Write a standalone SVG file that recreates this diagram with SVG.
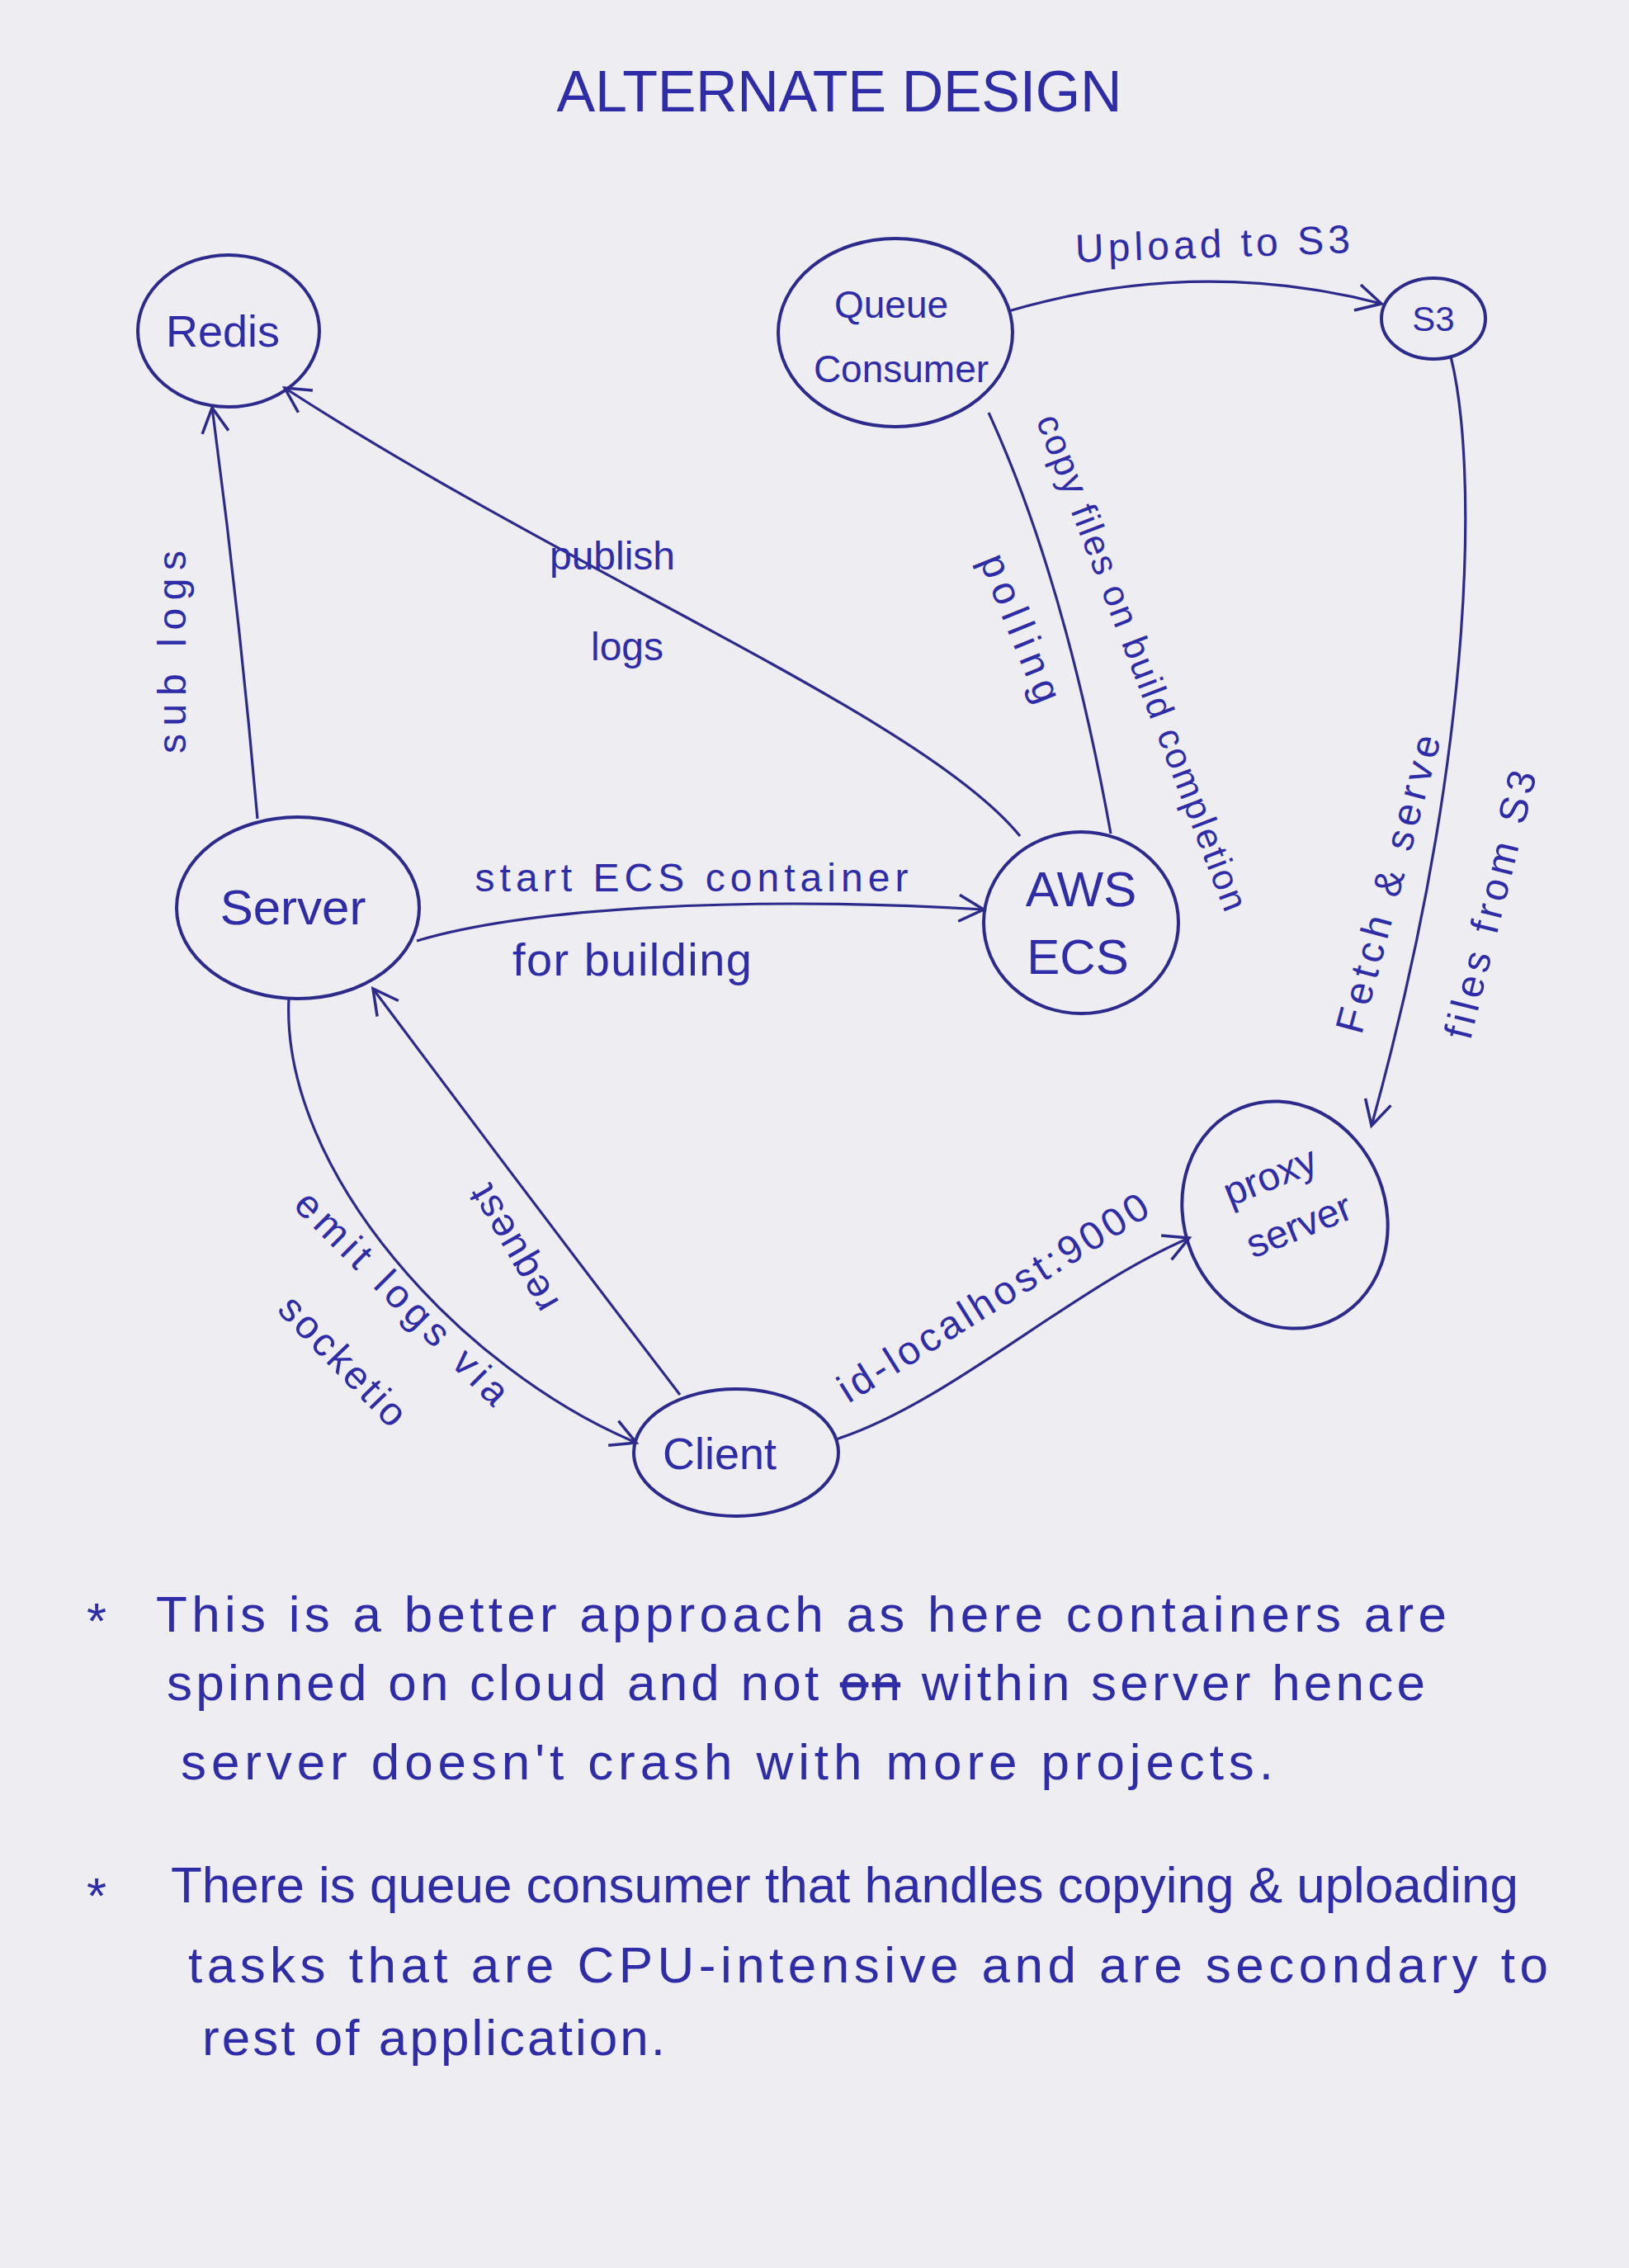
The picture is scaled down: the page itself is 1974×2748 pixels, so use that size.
<svg xmlns="http://www.w3.org/2000/svg" width="1974" height="2748" viewBox="0 0 1974 2748">
<style>
.bg{fill:#eeedf1}
.node{fill:none;stroke:#2c2a8a;stroke-width:4}
.edge{fill:none;stroke:#2c2a8a;stroke-width:3.2}
.t{font-family:"Liberation Sans","DejaVu Sans",sans-serif;fill:#2e2ca6}
.nl{font-size:54px;text-anchor:middle}
.el{font-size:48px;text-anchor:middle}
.note{font-size:62px}
</style>
<defs>
<marker id="arr" markerWidth="40" markerHeight="40" refX="36" refY="20" orient="auto" markerUnits="userSpaceOnUse">
<path d="M6,4 L36,20 L6,36" fill="none" stroke="#2c2a8a" stroke-width="3.5"/>
</marker>
</defs>
<rect class="bg" x="0" y="0" width="1974" height="2748"/>

<text class="t" x="1017" y="135" font-size="70" text-anchor="middle" textLength="685" lengthAdjust="spacing">ALTERNATE DESIGN</text>

<g id="connectors">
<path class="edge" d="M312,992 Q290,740 257,494" marker-end="url(#arr)"/>
<path class="edge" d="M1236,1013 C1120,870 700,700 345,470" marker-end="url(#arr)"/>
<path class="edge" d="M1222,377 Q1450,310 1674,368" marker-end="url(#arr)"/>
<path class="edge" d="M1198,500 Q1290,700 1346,1010"/>
<path class="edge" d="M505,1140 C640,1100 900,1085 1192,1102" marker-end="url(#arr)"/>
<path class="edge" d="M824,1690 Q640,1450 452,1198" marker-end="url(#arr)"/>
<path class="edge" d="M350,1210 C340,1420 560,1660 771,1748" marker-end="url(#arr)"/>
<path class="edge" d="M1013,1744 C1150,1700 1300,1560 1441,1500" marker-end="url(#arr)"/>
<path class="edge" d="M1758,432 C1790,560 1790,900 1662,1364" marker-end="url(#arr)"/>

<text class="t el" transform="translate(225,790) rotate(-90)" textLength="246" lengthAdjust="spacing">sub logs</text>
<text class="t el" x="742" y="690">publish</text>
<text class="t el" x="760" y="800">logs</text>
<text class="t el" transform="translate(1470,312) rotate(-2)" textLength="333" lengthAdjust="spacing">Upload to S3</text>
<text class="t" transform="translate(1370,808) rotate(69)" font-size="44" text-anchor="middle" textLength="640" lengthAdjust="spacing">copy files on build completion</text>
<text class="t el" transform="translate(1222,767) rotate(68)" textLength="190" lengthAdjust="spacing">polling</text>
<text class="t el" x="838" y="1080" textLength="525" lengthAdjust="spacing">start ECS container</text>
<text class="t" x="766" y="1182" font-size="56" text-anchor="middle" textLength="290" lengthAdjust="spacing">for building</text>
<text class="t el" transform="translate(636,1505) rotate(-120)" textLength="170" lengthAdjust="spacing">request</text>
<text class="t el" transform="translate(476,1584) rotate(45)" textLength="345" lengthAdjust="spacing">emit logs via</text>
<text class="t el" transform="translate(404,1660) rotate(46)" textLength="200" lengthAdjust="spacing">socketio</text>
<text class="t el" transform="translate(1212,1586) rotate(-32)" textLength="434" lengthAdjust="spacing">id-localhost:9000</text>
<text class="t el" transform="translate(1698,1075) rotate(-75)" textLength="372" lengthAdjust="spacing">Fetch &amp; serve</text>
<text class="t el" transform="translate(1822,1100) rotate(-76)" textLength="333" lengthAdjust="spacing">files from S3</text>
</g>

<g id="redis">
<ellipse class="node" cx="277" cy="401" rx="110" ry="92"/>
<text class="t nl" x="270" y="420">Redis</text>
</g>
<g id="queue-consumer">
<ellipse class="node" cx="1085" cy="403" rx="142" ry="114"/>
<text class="t" x="1080" y="385" font-size="46" text-anchor="middle">Queue</text>
<text class="t" x="1092" y="463" font-size="46" text-anchor="middle">Consumer</text>
</g>
<g id="s3">
<ellipse class="node" cx="1737" cy="386" rx="63" ry="49"/>
<text class="t" x="1737" y="401" font-size="42" text-anchor="middle">S3</text>
</g>
<g id="server">
<ellipse class="node" cx="361" cy="1100" rx="147" ry="110"/>
<text class="t" x="355" y="1120" font-size="60" text-anchor="middle">Server</text>
</g>
<g id="aws-ecs">
<ellipse class="node" cx="1310" cy="1118" rx="118" ry="110"/>
<text class="t" x="1310" y="1098" font-size="60" text-anchor="middle">AWS</text>
<text class="t" x="1306" y="1180" font-size="60" text-anchor="middle">ECS</text>
</g>
<g id="proxy-server">
<ellipse class="node" cx="1557" cy="1472" rx="122" ry="140" transform="rotate(-22 1557 1472)"/>
<text class="t" transform="translate(1545,1440) rotate(-22)" font-size="48" text-anchor="middle">proxy</text>
<text class="t" transform="translate(1580,1500) rotate(-22)" font-size="48" text-anchor="middle">server</text>
</g>
<g id="client">
<ellipse class="node" cx="892" cy="1760" rx="124" ry="77"/>
<text class="t nl" x="872" y="1780">Client</text>
</g>

<g id="notes">
<text class="t note" x="105" y="1985">*</text>
<text class="t note" x="189" y="1977" textLength="1564" lengthAdjust="spacing">This is a better approach as here containers are</text>
<text class="t note" x="202" y="2060" textLength="1525" lengthAdjust="spacing">spinned on cloud and not <tspan text-decoration="line-through">on</tspan> within server hence</text>
<text class="t note" x="219" y="2156" textLength="1324" lengthAdjust="spacing">server doesn't crash with more projects.</text>
<text class="t note" x="105" y="2318">*</text>
<text class="t note" x="207" y="2305" textLength="1633" lengthAdjust="spacing">There is queue consumer that handles copying &amp; uploading</text>
<text class="t note" x="228" y="2402" textLength="1648" lengthAdjust="spacing">tasks that are CPU-intensive and are secondary to</text>
<text class="t note" x="245" y="2490" textLength="561" lengthAdjust="spacing">rest of application.</text>
</g>
</svg>
